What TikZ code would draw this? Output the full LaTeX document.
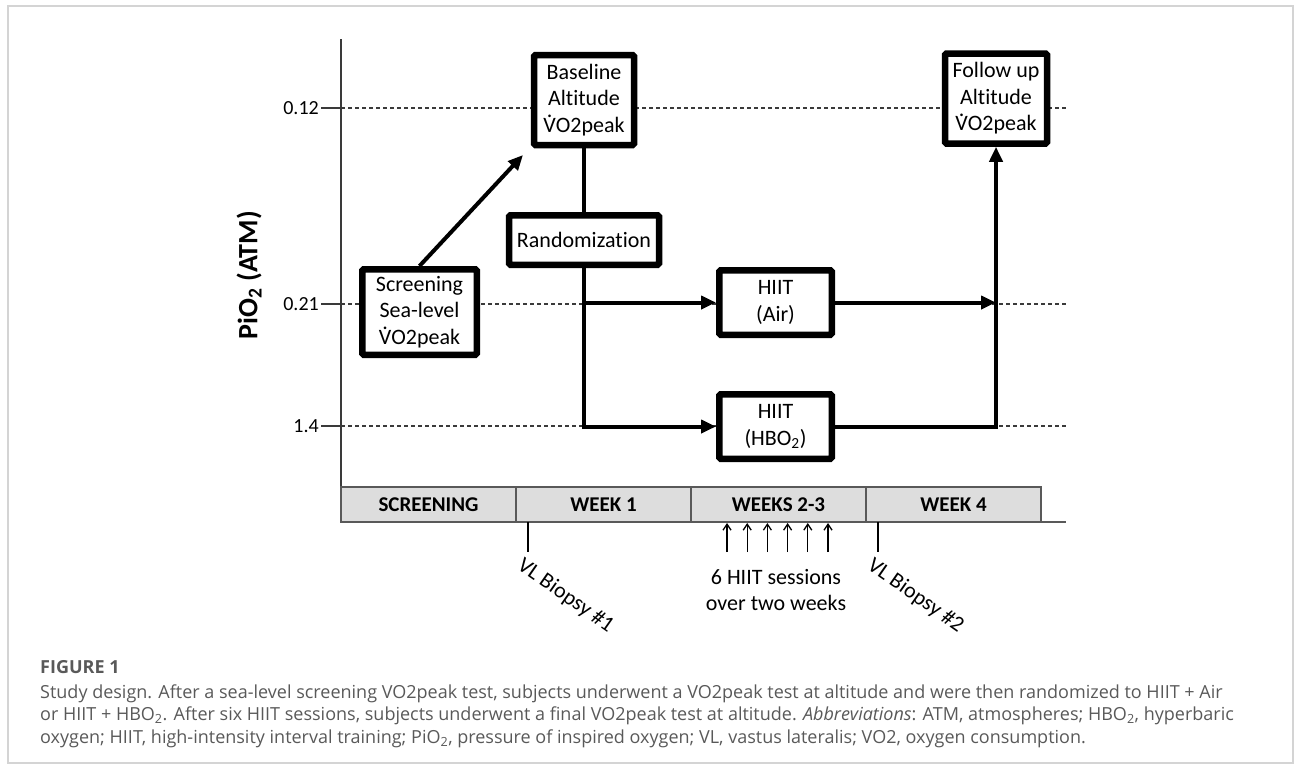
\documentclass[tikz,border=0pt]{standalone}
\usepackage{fontspec}
\setmainfont{Carlito}[Ligatures={NoCommon}]
\newfontfamily\capfont{Open Sans}
\usetikzlibrary{arrows.meta}
\definecolor{framegray}{HTML}{D4D4D4}
\definecolor{cellgray}{HTML}{DDDDDD}
\definecolor{cellline}{HTML}{595959}
\definecolor{axisgray}{HTML}{3A3A3A}
\definecolor{capgray}{HTML}{595959}
\newcommand{\Vdot}{\ooalign{V\cr\hidewidth\raisebox{0.66em}{.}\hidewidth\cr}}

\begin{document}
\begin{tikzpicture}[x=1pt,y=-1pt,
	box/.style={draw,line width=6.5pt,fill=white,rounded corners=1.5pt,align=center,inner sep=0pt,font=\fontsize{22}{26.5}\selectfont},
	flow/.style={line width=4pt,-{Triangle[length=15pt,width=13pt]}},
	link/.style={line width=4pt},
	guide/.style={axisgray,line width=1.2pt,dash pattern=on 4pt off 3pt},
	cell/.style={draw=cellline,fill=cellgray,line width=1.2pt,minimum width=175pt,minimum height=35pt,inner sep=0pt,outer sep=0pt,font=\bfseries\fontsize{21}{24}\selectfont},
	small/.style={font=\fontsize{22}{26}\selectfont}]
	\useasboundingbox (0,0) rectangle (1295,769);
	\draw[framegray,line width=1.2pt] (8,6) rectangle (1293,763);
	\draw[axisgray,line width=1.5pt] (341,39) -- (341,487);
	\foreach \lvl/\yy in {0.12/108,0.21/304,1.4/426}{
		\node[anchor=east,inner sep=1pt,font=\fontsize{20}{24}\selectfont] (lvl\yy) at (320,\yy) {\lvl};
		\draw[axisgray,line width=1.3pt] (321,\yy) -- (341,\yy);
		\draw[guide] (341,\yy) -- (1066,\yy);
	}
	\node[rotate=90,font=\bfseries\fontsize{28}{32}\selectfont] (ylab) at (249,275) {PiO\textsubscript{2} (ATM)};
	\node[box,minimum width=100pt,minimum height=90pt] (base) at (584,100) {Baseline\\Altitude\\\Vdot O2peak};
	\node[box,minimum width=102pt,minimum height=90pt] (follow) at (996,98.5) {Follow up\\Altitude\\\Vdot O2peak};
	\node[box,minimum width=150pt,minimum height=49.5pt] (rand) at (584,240) {Randomization};
	\node[box,minimum width=114.5pt,minimum height=85.5pt] (screen) at (419.5,312) {Screening\\Sea-level\\\Vdot O2peak};
	\node[box,minimum width=112.5pt,minimum height=64.5pt] (air) at (775.5,302.5) {HIIT\\(Air)};
	\node[box,minimum width=112.5pt,minimum height=64.5pt] (hbo) at (775.5,426.5) {HIIT\\(HBO\textsubscript{2})};
	\coordinate (tip) at (523,155);
	\draw[flow] (screen.north) -- (tip);
	\draw[link] (base.south) -- (rand.north);
	\draw[flow] (rand.south) |- (hbo.west);
	\draw[flow] (rand.south |- air.west) -- (air.west);
	\draw[flow] (air.east) -- (air.east -| follow.south);
	\draw[flow] (hbo.east) -| (follow.south);
	\foreach \i/\lab in {0/SCREENING,1/WEEK 1,2/WEEKS 2-3,3/WEEK 4}
		\node[cell] (cell\i) at ({428.5+175*\i},504.5) {\lab};
	\draw[cellline,line width=1.2pt] (cell0.south west) -- (cell3.south east) -- ++(25,0);
	\coordinate (bio1) at (528,522);
	\coordinate (bio2) at (878,522);
	\draw[line width=2.5pt] (bio1) -- ++(0,30);
	\draw[line width=2.5pt] (bio2) -- ++(0,30);
	\node[small,rotate=-35,anchor=north west,inner sep=0pt] (bio1lab) at (525,556) {VL Biopsy \#1};
	\node[small,rotate=-35,anchor=north west,inner sep=0pt] (bio2lab) at (875,556) {VL Biopsy \#2};
	\foreach \k in {0,...,5}
		\draw[line width=1.3pt,-{Straight Barb[length=6pt,width=8pt]}] ({727+20.2*\k},552) -- ({727+20.2*\k},523);
	\node[small,align=center] (sess) at (776,590) {6 HIIT sessions\\over two weeks};
	\node[anchor=base west,inner sep=0pt,text=capgray,font=\capfont\bfseries\fontsize{18}{22}\selectfont] (fig) at (40,673.5) {FIGURE 1};
	\node[anchor=base west,inner sep=0pt,text=capgray,font=\capfont\fontsize{18}{22}\selectfont] (cap1) at (40,698) {Study design. After a sea-level screening VO2peak test, subjects underwent a VO2peak test at altitude and were then randomized to HIIT + Air};
	\node[anchor=base west,inner sep=0pt,text=capgray,font=\capfont\fontsize{18}{22}\selectfont] (cap2) at (40,720) {or HIIT + HBO\textsubscript{2}. After six HIIT sessions, subjects underwent a final VO2peak test at altitude. \textit{Abbreviations}: ATM, atmospheres; HBO\textsubscript{2}, hyperbaric};
	\node[anchor=base west,inner sep=0pt,text=capgray,font=\capfont\fontsize{18}{22}\selectfont] (cap3) at (40,743) {oxygen; HIIT, high-intensity interval training; PiO\textsubscript{2}, pressure of inspired oxygen; VL, vastus lateralis; VO2, oxygen consumption.};
\end{tikzpicture}
\end{document}
